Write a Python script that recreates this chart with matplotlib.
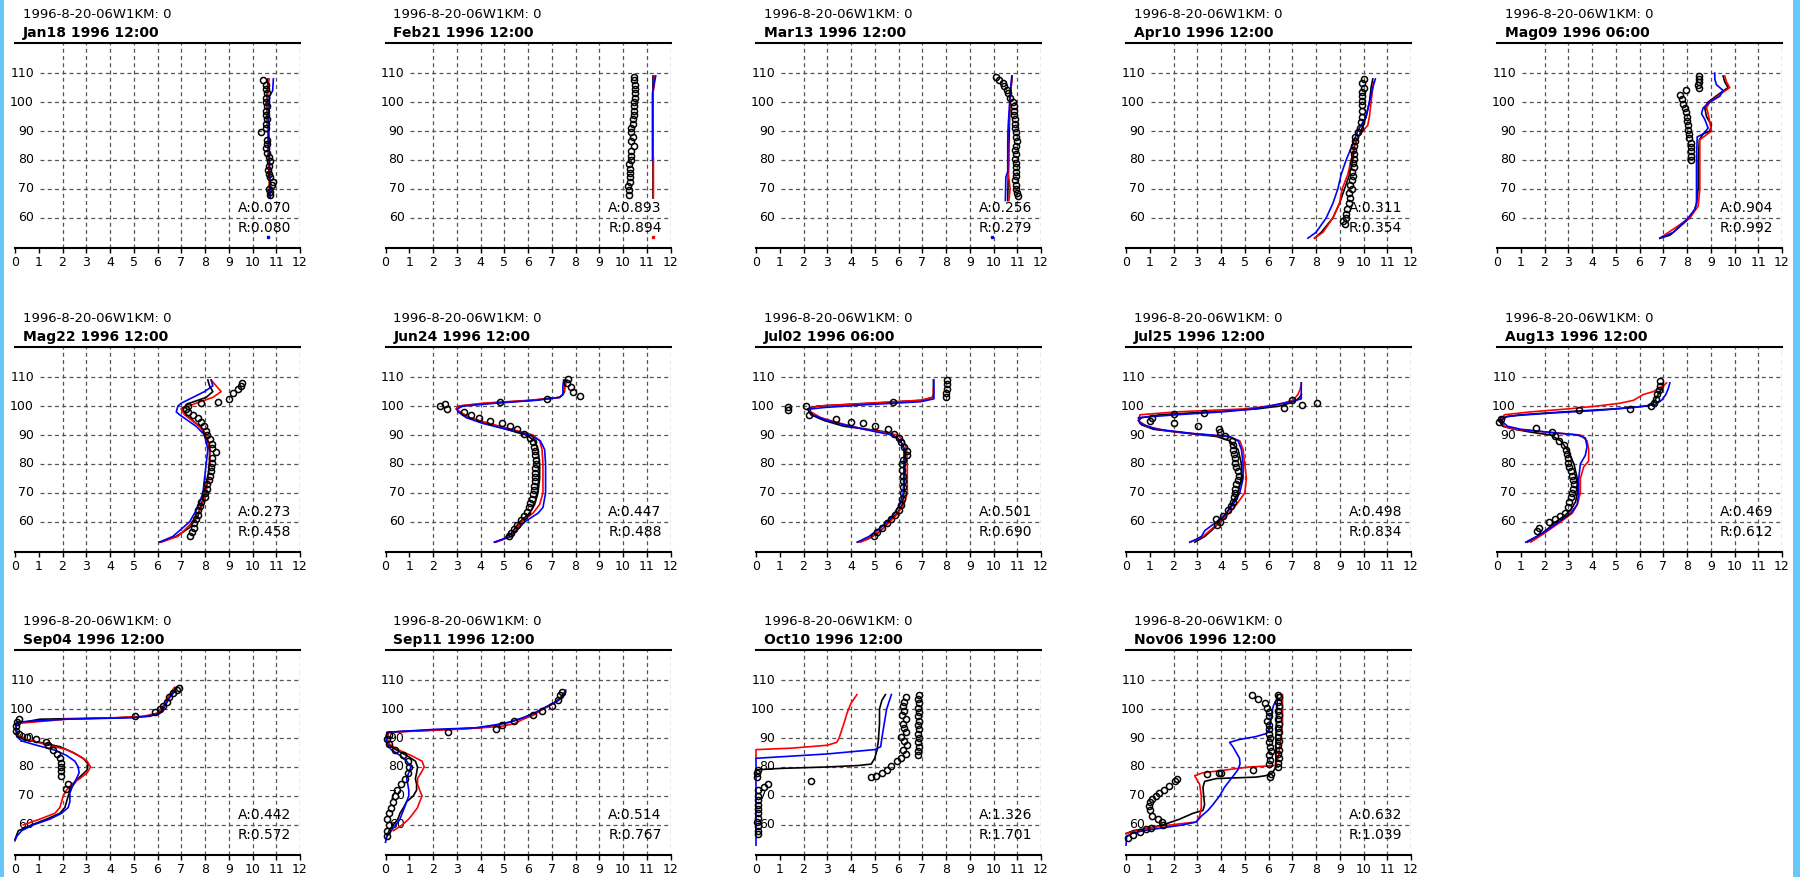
import matplotlib
matplotlib.use("Agg")
import matplotlib.pyplot as plt
from matplotlib.patches import Rectangle

# ---------------- data ----------------
HEADER = "1996-8-20-06W1KM: 0"
TITLES = ["Jan18 1996 12:00", "Feb21 1996 12:00", "Mar13 1996 12:00", "Apr10 1996 12:00",
          "Mag09 1996 06:00", "Mag22 1996 12:00", "Jun24 1996 12:00", "Jul02 1996 06:00",
          "Jul25 1996 12:00", "Aug13 1996 12:00", "Sep04 1996 12:00", "Sep11 1996 12:00",
          "Oct10 1996 12:00", "Nov06 1996 12:00"]
A_VALS = ["0.070", "0.893", "0.256", "0.311", "0.904", "0.273", "0.447", "0.501",
          "0.498", "0.469", "0.442", "0.514", "1.326", "0.632"]
R_VALS = ["0.080", "0.894", "0.279", "0.354", "0.992", "0.458", "0.488", "0.690",
          "0.834", "0.612", "0.572", "0.767", "1.701", "1.039"]
X_TICKS = [0, 1, 2, 3, 4, 5, 6, 7, 8, 9, 10, 11, 12]
Y_LABELS = [60, 70, 80, 90, 100, 110]

# each list: (value, altitude km)
JAN18_OBS = [(10.72,68),(10.75,69),(10.7,70),(10.8,71.5),(10.85,72.5),(10.75,74),(10.7,75),(10.65,76.5),
             (10.7,78),(10.75,79.5),(10.7,81),(10.6,82.5),(10.55,84),(10.6,85.5),(10.6,87),(10.35,89.5),
             (10.55,91),(10.55,92.5),(10.6,94),(10.55,95.5),(10.55,97),(10.6,98.5),(10.55,100),(10.55,101.5),
             (10.6,103),(10.55,104.5),(10.55,106),(10.45,107.5)]
JAN18_BLK = [(10.7,67),(10.72,72),(10.68,80),(10.65,88),(10.62,95),(10.62,102),(10.65,108)]
JAN18_RED = [(10.72,67),(10.7,75),(10.66,85),(10.63,95),(10.64,104),(10.7,108)]
JAN18_BLU = [(10.75,67),(10.73,75),(10.7,85),(10.68,95),(10.72,102),(10.85,104),(10.88,108)]
JAN18_DOT = [(10.65,53.5,'blue')]

FEB21_OBS = [(10.25,68),(10.25,69.5),(10.2,71),(10.3,72.5),(10.3,74),(10.3,75.5),(10.3,77),(10.25,78.5),
             (10.35,80),(10.35,81.5),(10.35,83),(10.45,85),(10.35,86.5),(10.4,88),(10.35,89.5),(10.35,91),
             (10.4,92.5),(10.4,94),(10.45,95.5),(10.45,97),(10.45,98.5),(10.45,100),(10.5,101.5),(10.5,103),
             (10.5,104.5),(10.5,106),(10.45,107.5),(10.45,108.5)]
FEB21_BLK = [(11.25,67),(11.25,109)]
FEB21_RED = [(11.28,67),(11.28,81),(11.26,81),(11.26,103),(11.32,106),(11.33,109)]
FEB21_BLU = [(11.24,80),(11.24,103),(11.3,106),(11.38,109)]
FEB21_DOT = [(11.25,53.5,'red')]

MAR13_OBS = [(11.05,67.5),(11.0,68.5),(10.95,70),(10.95,71.5),(10.9,73),(10.95,74.5),(10.95,76),(10.95,77.5),
             (10.95,79),(10.9,80.5),(10.95,82),(10.9,83.5),(10.95,85),(11.0,86.5),(10.95,88),(10.95,89.5),
             (10.9,91),(10.9,92.5),(10.9,94),(10.85,95.5),(10.85,97),(10.85,98.5),(10.8,100),(10.7,101.5),
             (10.6,103),(10.55,104),(10.45,105.5),(10.4,106.5),(10.25,107.5),(10.1,108.5)]
MAR13_BLK = [(10.6,66),(10.62,75),(10.65,85),(10.68,95),(10.7,102),(10.75,106),(10.78,109)]
MAR13_RED = [(10.65,66),(10.7,70),(10.63,75),(10.65,85),(10.6,88),(10.65,92),(10.7,100),(10.75,106),(10.78,108)]
MAR13_BLU = [(10.5,66),(10.52,74),(10.6,76),(10.6,86),(10.62,92),(10.68,100),(10.72,104),(10.77,109)]
MAR13_DOT = [(9.95,53.5,'blue')]

APR10_OBS = [(9.2,58),(9.15,59),(9.25,60),(9.25,61.5),(9.3,63),(9.4,65),(9.45,67),(9.4,68.5),(9.5,70),
             (9.45,71.5),(9.5,73),(9.55,74.5),(9.5,76),(9.6,77.5),(9.55,79),(9.6,80.5),(9.6,82),(9.55,83.5),
             (9.6,85),(9.65,86.5),(9.65,88),(9.75,89.5),(9.85,91),(9.9,93),(9.95,95),(9.95,97),(9.95,99),
             (9.95,100.5),(9.95,102),(9.95,103.5),(10.0,105),(9.95,106.5),(10.0,108)]
APR10_BLK = [(7.94,53),(8.22,55),(8.71,60),(8.99,65),(9.2,70),(9.41,75),(9.55,80),(9.62,85),(9.9,90),
             (10.11,95),(10.25,100),(10.32,105),(10.39,108)]
APR10_RED = [(7.94,53),(8.29,55),(8.71,60),(8.99,65),(9.1,70),(9.34,75),(9.48,80),(9.62,85),(9.76,88),
             (9.97,90),(10.18,92),(10.25,95),(10.32,100),(10.39,105),(10.43,107)]
APR10_BLU = [(7.66,53),(8.0,55),(8.43,60),(8.71,65),(8.92,70),(9.06,75),(9.27,80),(9.52,85),(9.76,90),
             (10.11,95),(10.25,100),(10.39,105),(10.5,108)]

MAY09_OBS = [(8.15,80),(8.15,81.5),(8.15,83),(8.15,84.5),(8.15,86),(8.1,87.5),(8.1,89),(8.05,90.5),(8.05,92),
             (8.0,93.5),(8.0,95),(7.95,96.5),(7.9,98),(7.85,99.5),(7.8,101),(7.7,102.5),(7.95,104),(8.5,105),
             (8.45,106),(8.5,107),(8.5,108),(8.5,109)]
MAY09_BLK = [(6.86,53),(7.28,54),(7.7,57),(8.12,60),(8.33,63),(8.4,65),(8.47,70),(8.47,80),(8.52,87),(8.68,89),
             (8.96,90),(9.03,92),(8.82,95),(8.75,98),(8.89,100),(9.38,103),(9.73,105),(9.59,107),(9.52,109)]
MAY09_RED = [(6.86,53),(8.12,60),(8.47,64),(8.54,70),(8.54,80),(8.54,87),(9.03,90),(8.96,93),(8.89,96),
             (8.82,98),(8.96,100),(9.45,103),(9.8,105),(9.66,107),(9.59,109)]
MAY09_BLU = [(6.86,53),(7.42,55),(8.05,60),(8.33,63),(8.4,65),(8.4,80),(8.43,88),(8.68,89),(8.89,91),(8.75,94),
             (8.61,96),(8.68,98),(8.96,100),(9.38,102),(9.52,104),(9.24,106),(9.17,108),(9.17,110)]

MAY22_OBS = [(7.35,55),(7.45,56.5),(7.55,58),(7.55,59.5),(7.6,61),(7.7,62.5),(7.7,64),(7.8,65.5),(7.85,67),
             (8.0,68.5),(8.0,70),(8.1,71.5),(8.1,73),(8.15,74.5),(8.2,76),(8.25,77.5),(8.25,79),(8.3,80.5),
             (8.3,82),(8.45,84),(8.3,85.5),(8.3,87),(8.2,88.5),(8.1,90),(8.05,91.5),(7.95,93),(7.85,94.5),
             (7.7,96),(7.5,97),(7.3,98),(7.2,99),(7.3,100),(7.85,101),(8.55,101.5),(9.0,102.5),(9.2,104.5),
             (9.4,106),(9.5,107),(9.55,108)]
MAY22_BLK = [(6.09,53),(6.79,55),(7.35,58),(7.7,62),(7.84,66),(8.01,70),(8.12,75),(8.19,80),(8.19,85),
             (8.05,90),(7.77,93),(7.49,95),(7.21,97),(7.0,99),(7.35,101),(8.05,103),(8.33,105),(8.19,107),(8.12,109)]
MAY22_RED = [(6.16,53),(6.86,55),(7.49,60),(7.84,65),(8.05,70),(8.19,80),(8.22,85),(8.05,90),(7.77,93),
             (7.14,97),(7.0,99),(7.63,101),(8.33,103),(8.68,105),(8.47,107),(8.26,109)]
MAY22_BLU = [(6.09,53),(6.65,55),(7.35,60),(7.7,65),(7.91,70),(7.98,75),(8.05,80),(8.12,85),(7.98,90),
             (7.63,93),(7.28,95),(6.93,97),(6.79,98),(6.86,100),(7.0,101),(7.49,103),(7.98,105),(8.33,107),(8.26,109)]

JUN24_OBS = [(5.2,55),(5.3,56),(5.4,57.5),(5.55,59),(5.7,60.5),(5.85,62),(5.95,63.5),(6.05,65),(6.1,66.5),
             (6.15,68),(6.2,69.5),(6.25,71),(6.25,72.5),(6.3,74),(6.3,75.5),(6.3,77),(6.3,78.5),(6.35,80),
             (6.35,81.5),(6.3,83),(6.3,84.5),(6.25,86),(6.2,87.5),(6.1,89),(5.85,90.5),(5.55,92),(5.25,93),
             (4.9,94),(4.4,95),(3.95,96),(3.6,97),(3.3,98),(2.6,99),(2.3,100),(2.5,100.8),(4.8,101.5),
             (6.8,102.5),(8.2,103.5),(7.9,105),(7.8,106.5),(7.65,108),(7.7,109.5)]
JUN24_BLK = [(4.59,53),(4.94,54),(5.29,56),(5.65,60),(6.07,63),(6.28,66),(6.42,70),(6.49,75),(6.49,80),
             (6.42,85),(6.28,88),(5.93,90),(5.08,92),(4.24,94),(3.54,96),(3.12,98),(2.98,99),(3.12,100),
             (4.38,101),(6.21,102),(7.33,103),(7.47,104),(7.54,105),(7.54,109)]
JUN24_RED = [(4.66,53),(5.29,55),(5.72,60),(6.21,63),(6.49,66),(6.63,70),(6.63,80),(6.59,85),(6.49,88),
             (6.21,90),(5.29,92),(4.38,94),(3.54,96),(3.12,98),(2.98,99),(3.05,100),(4.1,101),(6.07,102),
             (7.33,103),(7.47,104),(7.54,106),(7.64,109)]
JUN24_BLU = [(4.59,53),(5.29,55),(5.86,60),(6.42,63),(6.63,65),(6.74,70),(6.74,80),(6.7,85),(6.52,88),
             (6.07,90),(5.08,92),(4.1,94),(3.4,96),(3.05,98),(3.02,99),(3.26,100),(4.66,101),(6.35,102),
             (7.33,103),(7.47,104),(7.47,107),(7.5,109)]

JUL02_OBS = [(4.95,55),(5.1,56.5),(5.3,58),(5.5,59.5),(5.7,61),(5.85,62.5),(6.0,64),(6.1,66),(6.15,68),
             (6.2,70),(6.2,72),(6.2,74),(6.2,76),(6.15,78),(6.15,80),(6.2,81.5),(6.35,83),(6.35,84.5),
             (6.25,86),(6.1,87.5),(6.0,89),(5.8,90.5),(5.55,92),(5.0,93),(4.5,94),(4.0,94.5),(3.35,95.5),
             (2.25,97),(2.1,100),(1.35,98.8),(1.35,99.6),(5.75,101.5),(8.0,103),(8.0,104.5),(8.05,106),
             (8.05,107.5),(8.05,109)]
JUL02_BLK = [(4.27,53),(4.69,54),(5.11,56),(5.39,58),(5.67,61),(5.95,63),(6.16,66),(6.23,70),(6.26,75),
             (6.26,80),(6.3,84),(6.16,87),(5.95,89),(5.53,91),(4.69,92),(3.71,93),(2.87,95),(2.31,97),
             (2.17,99),(2.59,100),(4.97,101),(7.0,102),(7.42,103),(7.47,104),(7.47,109)]
JUL02_RED = [(4.41,53),(4.9,55),(5.39,58),(5.88,62),(6.23,66),(6.37,70),(6.37,80),(6.34,85),(6.23,88),
             (5.95,90),(5.39,91),(4.55,92),(3.57,94),(2.73,96),(2.31,98),(2.24,99),(2.59,100),(4.69,101),
             (6.93,102),(7.47,103),(7.47,106)]
JUL02_BLU = [(4.27,53),(4.76,55),(5.25,58),(5.74,62),(6.06,66),(6.2,70),(6.23,80),(6.23,85),(6.09,88),
             (5.74,90),(5.11,91),(3.99,93),(3.01,95),(2.38,97),(2.24,98),(2.31,99),(2.87,99.5),(4.69,100.5),
             (6.93,101.5),(7.49,102.5),(7.49,109)]

JUL25_OBS = [(3.85,59),(3.95,60),(3.8,61),(4.1,62),(4.3,64),(4.4,65.5),(4.5,67),(4.55,68.5),(4.6,70),
             (4.6,71.5),(4.65,73),(4.7,74.5),(4.75,76),(4.7,77.5),(4.65,79),(4.6,80.5),(4.6,82),(4.55,83.5),
             (4.5,85),(4.5,86.5),(4.45,88),(4.15,89.5),(3.95,91),(3.9,92),(3.05,93),(2.0,94),(1.0,95),
             (1.1,95.8),(2.0,97.3),(3.3,97.5),(6.65,99.5),(7.4,100.5),(8.05,101),(7.0,102)]
JUL25_BLK = [(2.9,53),(3.32,55),(3.6,57),(3.95,60),(4.23,63),(4.44,66),(4.72,70),(4.86,75),(4.86,80),
             (4.72,85),(4.37,88),(3.81,89.5),(2.13,91),(1.15,92),(0.66,93.5),(0.52,95),(0.66,96),(1.43,97),
             (3.53,98),(5.49,99),(6.47,100),(6.89,101),(7.17,102),(7.31,103),(7.38,104)]
JUL25_RED = [(2.69,53),(3.25,55),(3.67,58),(4.23,62),(4.65,66),(5.0,70),(5.07,75),(5.0,80),(4.93,85),
             (4.79,88),(4.23,89.5),(2.83,90.5),(1.71,91.5),(0.87,93),(0.52,95),(0.59,97),(2.13,98),(4.93,99),
             (6.05,100),(6.61,101),(7.03,102),(7.24,104),(7.34,106),(7.38,108)]
JUL25_BLU = [(2.69,53),(2.97,54),(3.18,55),(3.32,57),(3.81,60),(4.23,63),(4.51,66),(4.79,70),(4.93,75),
             (4.93,80),(4.86,85),(4.72,88),(4.37,89.5),(2.83,90.5),(1.29,92),(0.59,94),(0.52,96),(2.13,97),
             (4.09,98),(5.35,99),(6.33,100.5),(6.96,101.5),(7.38,102.5),(7.38,108)]

AUG13_OBS = [(1.7,57),(1.75,58),(2.2,60),(2.45,61),(2.65,62),(2.85,63),(3.0,65),(3.05,67),(3.1,68.5),
             (3.15,70),(3.2,71.5),(3.25,73),(3.2,74.5),(3.15,76),(3.1,77.5),(3.05,79),(3.0,80.5),(3.0,82),
             (2.95,83.5),(2.9,85),(2.8,86.5),(2.6,88),(2.45,89.5),(2.3,91),(1.65,92.5),(0.1,94.5),(0.15,95.5),
             (3.45,98.5),(5.6,99),(6.5,100),(6.6,101),(6.7,102.5),(6.75,104),(6.8,105.5),(6.85,107),(6.85,108.5)]
AUG13_BLK = [(1.28,53),(1.7,55),(2.05,57),(2.47,60),(2.82,62),(3.1,64),(3.31,67),(3.38,70),(3.38,75),
             (3.24,80),(2.96,85),(2.68,88),(2.26,90),(1.42,91),(0.73,92),(0.24,93),(0.1,95),(0.17,96),
             (1.0,97),(2.82,98),(4.91,99),(6.3,100),(6.58,101),(6.72,103),(6.93,106),(7.0,108)]
AUG13_RED = [(1.42,53),(1.98,56),(2.68,60),(3.17,63),(3.38,66),(3.51,70),(3.51,75),(3.65,79),(3.86,81),
             (3.86,85),(3.79,88),(3.51,90),(2.12,91),(0.73,92),(0.31,93),(0.17,95),(0.31,97),(1.42,98),
             (2.96,99),(4.21,100),(5.19,101),(5.75,102),(6.16,104),(6.58,105),(7.0,107),(7.14,108)]
AUG13_BLU = [(1.21,53),(1.91,56),(2.61,60),(3.1,63),(3.38,66),(3.44,70),(3.44,75),(3.51,80),(3.72,83),
             (3.79,86),(3.72,89),(3.38,90),(2.12,91),(1.0,92),(0.45,93),(0.17,95),(0.45,96.5),(2.12,97.5),
             (4.21,98.5),(5.75,99.5),(6.65,100.5),(6.93,102),(7.11,104),(7.21,106),(7.28,108)]

SEP04_OBS = [(1.95,77),(1.95,78.5),(1.95,80),(1.95,81.5),(1.9,83),(1.75,84.5),(1.6,86),(1.4,87.5),
             (1.3,88.5),(0.9,89.5),(0.5,90.5),(0.15,91.5),(0.05,92.5),(0.05,94),(0.1,95.5),(0.15,96.5),
             (5.05,97.5),(5.9,99),(6.1,100),(6.25,101),(6.4,102.5),(6.5,104),(6.65,105.5),(6.8,106.5),
             (6.9,107.2),(2.25,74),(2.15,72.5)]
SEP04_BLK = [(0.0,55),(0.14,58),(0.7,60),(1.33,62),(1.89,64),(2.1,66),(2.24,70),(2.38,73),(2.66,76),
             (3.04,79),(3.08,81),(2.87,83),(2.45,85),(1.89,87),(1.05,88.5),(0.35,89.5),(0.07,91),(0.04,95),
             (1.05,96.5),(4.27,97),(5.67,97.5),(6.09,98.5),(6.23,100),(6.44,103),(6.65,106),(6.79,107.5)]
SEP04_RED = [(0.35,60),(1.05,62),(1.68,64),(1.89,66),(1.96,68),(2.03,70),(2.17,72),(2.38,74),(2.73,76),
             (3.04,78),(3.18,80),(3.04,82),(2.66,84),(2.17,86),(1.19,88),(0.49,89.5),(0.14,91),(0.04,93),
             (0.04,95),(2.17,96.5),(4.27,97),(5.39,97.5),(5.95,98.5),(6.16,100),(6.3,102),(6.44,104),
             (6.58,106),(6.72,107.5)]
SEP04_BLU = [(0.0,54.5),(0.07,56),(0.28,58),(0.77,60),(1.47,62),(1.96,64),(2.24,66),(2.31,68),(2.31,71),
             (2.45,74),(2.59,76),(2.7,78),(2.66,80),(2.52,82),(2.17,84),(1.61,86),(0.91,87.5),(0.28,89),
             (0.07,90.5),(0.04,93),(0.07,95.5),(2.17,96.5),(4.97,97),(5.53,97.5),(6.09,98.5),(6.23,100),
             (6.37,102),(6.51,104),(6.72,106),(6.79,107)]

SEP11_OBS = [(0.05,56),(0.05,58),(0.15,60),(0.05,62),(0.15,64),(0.25,66),(0.3,68),(0.4,70),(0.5,72),
             (0.65,74),(0.8,76),(0.95,78),(1.0,80),(0.95,82),(0.75,84),(0.4,86),(0.15,88),(0.05,89.5),
             (0.15,91),(2.65,92),(4.65,93),(4.9,94.5),(5.4,96),(6.2,98),(6.6,99.5),(7.0,101),(7.25,103),
             (7.35,105),(7.45,106)]
SEP11_BLK = [(0.06,56),(0.15,58),(0.33,60),(0.52,62),(0.61,64),(0.76,66),(0.89,68),(1.17,70),(1.31,72),
             (1.31,74),(1.26,76),(1.31,78),(1.35,80),(1.26,82),(0.89,84),(0.43,86),(0.09,88),(0.06,90),
             (0.09,92),(2.65,93),(3.94,93.5),(4.69,94.5),(5.24,95.5),(5.8,97),(6.26,98.5),(6.63,100),
             (7.09,102),(7.37,104),(7.56,106)]
SEP11_RED = [(0.33,58),(0.7,60),(0.98,62),(1.17,64),(1.35,66),(1.44,68),(1.54,70),(1.44,72),(1.35,74),
             (1.35,76),(1.5,78),(1.63,80),(1.54,82),(1.07,84),(0.52,86),(0.15,88),(0.06,90),(0.15,92),
             (3.02,93),(4.87,94),(5.43,95),(5.8,96.5),(6.26,98),(6.63,100),(7.09,102),(7.46,104),(7.56,106)]
SEP11_BLU = [(0.0,54),(0.06,56),(0.24,58),(0.43,60),(0.61,62),(0.7,64),(0.8,66),(0.89,68),(0.98,70),
             (0.98,72),(0.94,74),(0.89,76),(0.98,78),(1.07,80),(0.89,82),(0.61,84),(0.24,86),(0.06,88),
             (0.02,90),(0.06,92),(2.09,93),(3.76,93.5),(4.59,94.5),(5.24,95.5),(5.8,97),(6.35,99),(6.81,101),
             (7.28,103),(7.56,105),(7.59,106.5)]

OCT10_OBS = [(6.8,84),(6.8,85.5),(6.85,87),(6.8,88.5),(6.85,90),(6.8,91.5),(6.85,93),(6.8,94.5),(6.85,96),
             (6.8,97.5),(6.85,99),(6.8,100.5),(6.85,102),(6.8,103.5),(6.85,105),(6.1,83),(6.3,84.5),(6.2,86),
             (6.35,87.5),(6.25,89),(6.1,90.5),(6.3,92),(6.25,93.5),(6.2,95),(6.3,96.5),(6.15,98),(6.25,99.5),
             (6.2,101),(6.25,102.5),(6.3,104),(5.95,82),(5.7,80.5),(5.5,79),(5.3,78),(5.05,77),(4.85,76.5),
             (2.3,75),(0.5,74),(0.35,73),(0.1,79),(0.05,78),(0.05,76.5),(0.1,72),(0.1,70),(0.1,68.5),
             (0.1,67),(0.1,65.5),(0.1,64),(0.1,62.5),(0.05,61),(0.1,59.5),(0.1,58),(0.1,57)]
OCT10_BLK = [(0.0,79),(1.0,79.5),(3.0,80),(4.3,80.5),(4.85,81),(5.0,83),(5.1,86),(5.15,89),(5.2,95),
             (5.2,100),(5.3,103),(5.45,105)]
OCT10_RED = [(0.0,83),(0.0,86),(1.5,86.5),(3.0,87.5),(3.4,88.5),(3.5,90),(3.7,95),(3.85,99),(4.0,102),(4.25,105)]
OCT10_BLU = [(0.0,53),(0.0,83),(1.0,83.5),(3.0,84.5),(5.0,86),(5.25,87),(5.3,90),(5.4,95),(5.5,100),(5.7,105)]

NOV06_OBS = [(6.4,80),(6.4,81.5),(6.45,83),(6.4,84.5),(6.45,86),(6.4,87.5),(6.45,89),(6.4,90.5),(6.45,92),
             (6.4,93.5),(6.45,95),(6.4,96.5),(6.45,98),(6.4,99.5),(6.45,101),(6.4,102.5),(6.45,104),(6.4,105),
             (6.0,81),(6.05,82.5),(6.0,84),(6.1,85.5),(6.05,87),(6.0,88.5),(6.05,90),(6.0,91.5),(6.0,93),
             (6.0,94.5),(5.95,96),(6.0,97.5),(6.0,99),(5.95,100.5),(5.85,102),(5.55,103.5),(5.3,105),
             (6.1,77.5),(6.05,76.5),(5.35,79),(4.0,78),(3.4,77.5),(3.9,77.8),(2.15,76),(2.05,75),(1.8,73.5),
             (1.6,72),(1.4,71),(1.25,70),(1.1,69),(1.0,68),(0.95,66.5),(1.0,65),(1.1,63),(1.35,62),(1.5,61),
             (1.55,60),(1.05,59),(0.85,58.5),(0.6,57.5),(0.3,56.5),(0.1,55.5)]
NOV06_BLK = [(0.0,57),(0.31,58),(1.01,59),(1.56,60),(2.26,62),(2.82,64),(3.24,65),(3.31,67),(3.27,70),
             (3.24,73),(3.31,75),(3.8,76),(5.47,76.5),(5.89,77),(6.17,78),(6.31,80),(6.31,90),(6.35,100),(6.38,105)]
NOV06_RED = [(0.0,57),(0.45,58),(1.42,59.5),(2.4,60.5),(2.96,61),(3.1,63),(3.17,66),(3.17,70),(3.1,74),
             (2.96,76),(2.89,77),(3.24,78),(4.22,79),(5.2,80),(6.31,80.5),(6.45,85),(6.52,90),(6.59,95),
             (6.59,100),(6.59,105)]
NOV06_BLU = [(0.0,53),(0.03,56),(0.24,57),(0.73,58),(1.56,59),(2.4,60),(2.96,61),(3.17,63),(3.45,65),
             (3.66,67),(3.94,70),(4.15,73),(4.43,76),(4.71,79),(4.8,81),(4.78,83),(4.64,85),(4.5,87),
             (4.36,88.5),(4.78,89.5),(5.47,90.5),(5.89,91.5),(6.03,93),(6.1,96),(6.15,99),(6.2,101),(6.31,103)]

PANELS = [
    (JAN18_OBS, JAN18_BLK, JAN18_RED, JAN18_BLU, JAN18_DOT),
    (FEB21_OBS, FEB21_BLK, FEB21_RED, FEB21_BLU, FEB21_DOT),
    (MAR13_OBS, MAR13_BLK, MAR13_RED, MAR13_BLU, MAR13_DOT),
    (APR10_OBS, APR10_BLK, APR10_RED, APR10_BLU, []),
    (MAY09_OBS, MAY09_BLK, MAY09_RED, MAY09_BLU, []),
    (MAY22_OBS, MAY22_BLK, MAY22_RED, MAY22_BLU, []),
    (JUN24_OBS, JUN24_BLK, JUN24_RED, JUN24_BLU, []),
    (JUL02_OBS, JUL02_BLK, JUL02_RED, JUL02_BLU, []),
    (JUL25_OBS, JUL25_BLK, JUL25_RED, JUL25_BLU, []),
    (AUG13_OBS, AUG13_BLK, AUG13_RED, AUG13_BLU, []),
    (SEP04_OBS, SEP04_BLK, SEP04_RED, SEP04_BLU, []),
    (SEP11_OBS, SEP11_BLK, SEP11_RED, SEP11_BLU, []),
    (OCT10_OBS, OCT10_BLK, OCT10_RED, OCT10_BLU, []),
    (NOV06_OBS, NOV06_BLK, NOV06_RED, NOV06_BLU, []),
]

# ---------------- layout ----------------
W, H = 1800, 877
COL_LEFT = [15, 385.5, 756, 1126, 1497]
ROW_TOP = [43, 347, 650]
AX_W, AX_H = 285, 205
GRID_C = "#555555"
DASH = (0, (3.2, 2.6))

fig = plt.figure(figsize=(W / 100, H / 100), dpi=100)
fig.patch.set_facecolor("white")
fig.patches.append(Rectangle((0, 0), 4 / W, 1, transform=fig.transFigure,
                             facecolor="#66c8fa", edgecolor="none"))
fig.patches.append(Rectangle((1793 / W, 0), 7 / W, 1, transform=fig.transFigure,
                             facecolor="#66c8fa", edgecolor="none"))


def xy(pairs):
    return [p[0] for p in pairs], [p[1] for p in pairs]


for i, (obs, blk, red, blu, dots) in enumerate(PANELS):
    r, c = divmod(i, 5)
    left = COL_LEFT[c] / W
    bottom = 1 - (ROW_TOP[r] + AX_H) / H
    ax = fig.add_axes([left, bottom, AX_W / W, AX_H / H])
    ax.set_xlim(0, 12)
    ax.set_ylim(49.6, 120.4)
    ax.set_facecolor("white")
    for s in ("left", "right"):
        ax.spines[s].set_visible(False)
    ax.spines["top"].set_linewidth(1.5)
    ax.spines["bottom"].set_linewidth(1.5)
    ax.set_xticks(X_TICKS)
    ax.set_xticklabels([str(t) for t in X_TICKS], fontsize=9, family="DejaVu Sans")
    ax.tick_params(axis="x", direction="out", length=3.5, width=1.0, pad=2)
    ax.set_yticks([])

    # grid
    ax.vlines(X_TICKS[2:], 49.6, 120.4, colors=GRID_C, linestyles=DASH, linewidth=0.9, zorder=1)
    ax.hlines(Y_LABELS, 1.05, 12, colors=GRID_C, linestyles=DASH, linewidth=0.9, zorder=1)
    for yv in Y_LABELS:
        ax.text(0.8, yv, str(yv), ha="right", va="center", fontsize=9, family="DejaVu Sans")

    bx, by = xy(blk)
    rx, ry = xy(red)
    ux, uy = xy(blu)
    ox, oy = xy(obs)
    ax.plot(bx, by, color="black", lw=1.2, zorder=3, clip_on=False)
    ax.plot(rx, ry, color="#ff0000", lw=1.2, zorder=3, clip_on=False)
    ax.plot(ux, uy, color="#0000ff", lw=1.2, zorder=3, clip_on=False)
    ax.plot(ox, oy, linestyle="none", marker="o", ms=4.4, mfc="none", mec="black",
            mew=1.1, zorder=4, clip_on=False)
    for dx, dy, dc in dots:
        ax.plot([dx], [dy], marker="s", ms=1.5, color=dc, linestyle="none", zorder=3)

    ax.text(9.38, 63.3, "A:" + A_VALS[i], ha="left", va="center", fontsize=10, family="DejaVu Sans")
    ax.text(9.38, 56.6, "R:" + R_VALS[i], ha="left", va="center", fontsize=10, family="DejaVu Sans")

    ax.text(0.028, 1.137, HEADER, transform=ax.transAxes, ha="left", va="center",
            fontsize=9.5, family="DejaVu Sans")
    ax.text(0.028, 1.05, TITLES[i], transform=ax.transAxes, ha="left", va="center",
            fontsize=10, fontweight="bold", family="DejaVu Sans")

fig.savefig("out.png", dpi=100, facecolor="white")
